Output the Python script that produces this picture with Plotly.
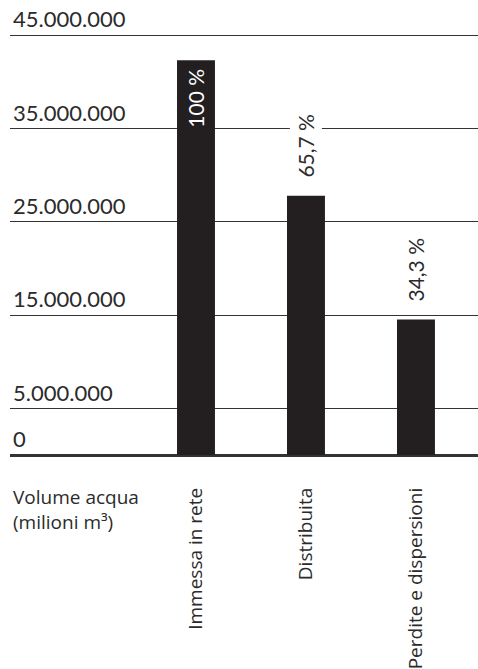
import plotly.graph_objects as go

# Water volumes (m³) for each stage of the network, and their share of the input volume
categories = ["Immessa in rete", "Distribuita", "Perdite e dispersioni"]
volumes = [42_300_000, 27_790_000, 14_510_000]
share_labels = ["100 %", "65,7 %", "34,3 %"]

# Y axis ticks
tick_values = [0, 5_000_000, 15_000_000, 25_000_000, 35_000_000, 45_000_000]
tick_labels = ["0", "5.000.000", "15.000.000", "25.000.000", "35.000.000", "45.000.000"]

BAR_COLOR = "#231f20"
TEXT_COLOR = "#2b2b2b"
LINE_COLOR = "#333333"
NUM_FONT = "Lato"
CAT_FONT = "Open Sans"

x_pos = list(range(len(categories)))

fig = go.Figure(
    go.Bar(
        x=x_pos,
        y=volumes,
        width=0.345,
        marker=dict(color=BAR_COLOR, line=dict(width=0)),
        hoverinfo="skip",
    )
)

# Percentage labels: the first sits inside its bar, the others above theirs
for i, (v, lab) in enumerate(zip(volumes, share_labels)):
    if i == 0:
        fig.add_annotation(
            x=x_pos[i], y=v, text=lab, textangle=-90, showarrow=False,
            yanchor="top", yshift=-6,
            font=dict(family=NUM_FONT, size=21, color="white"),
        )
    else:
        fig.add_annotation(
            x=x_pos[i], y=v, text=lab, textangle=-90, showarrow=False,
            yanchor="bottom", yshift=14, bgcolor="white", borderpad=3,
            font=dict(family=NUM_FONT, size=21, color=TEXT_COLOR),
        )

# Axis title block under the y axis
fig.add_annotation(
    xref="paper", yref="paper", x=0, y=0, xanchor="left", yanchor="top",
    xshift=1, yshift=-27, align="left", showarrow=False,
    text="Volume acqua<br>(milioni m³)",
    font=dict(family=CAT_FONT, size=19, color=TEXT_COLOR),
)

fig.update_layout(
    width=478,
    height=669,
    margin=dict(l=10, r=0, t=0, b=214),
    paper_bgcolor="white",
    plot_bgcolor="white",
    showlegend=False,
    xaxis=dict(
        range=[-1.691, 2.564],
        tickmode="array",
        tickvals=x_pos,
        ticktext=categories,
        tickangle=-90,
        ticks="",
        ticklabelstandoff=28,
        tickfont=dict(family=CAT_FONT, size=19, color=TEXT_COLOR),
        showgrid=False,
        zeroline=False,
        showline=False,
        fixedrange=True,
    ),
    yaxis=dict(
        range=[0, 48_750_000],
        tickmode="array",
        tickvals=tick_values,
        ticktext=tick_labels,
        ticklabelposition="inside top",
        ticks="",
        tickfont=dict(family=NUM_FONT, size=22, color=TEXT_COLOR),
        showgrid=True,
        gridcolor=LINE_COLOR,
        gridwidth=1.3,
        zeroline=True,
        zerolinecolor=LINE_COLOR,
        zerolinewidth=2.6,
        showline=False,
        fixedrange=True,
    ),
)

fig.write_html("out.html")
